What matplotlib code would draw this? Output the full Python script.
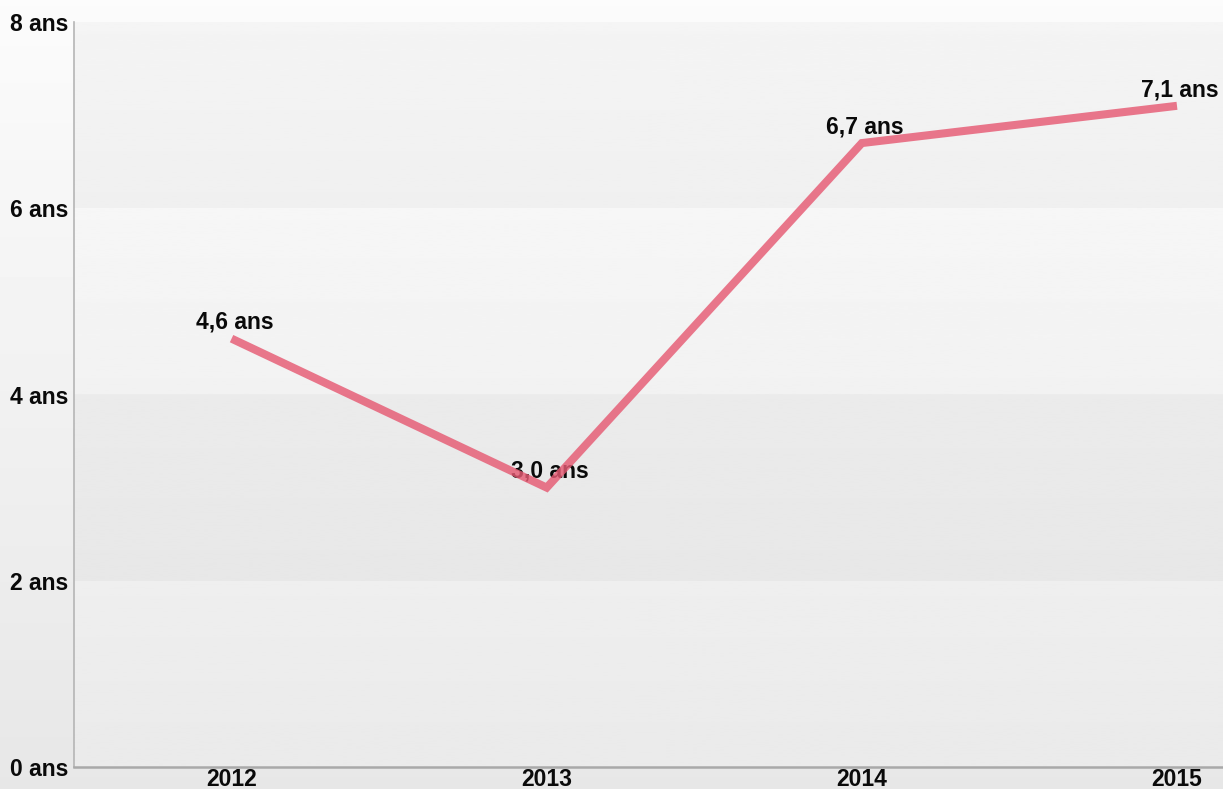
import numpy as np
import matplotlib
matplotlib.use("Agg")
import matplotlib.pyplot as plt

# Durée moyenne (en années) par année
years = ["2012", "2013", "2014", "2015"]
durations = [4.6, 3.0, 6.7, 7.1]
value_labels = ["4,6 ans", "3,0 ans", "6,7 ans", "7,1 ans"]
y_ticks = [0, 2, 4, 6, 8]
y_tick_labels = ["0 ans", "2 ans", "4 ans", "6 ans", "8 ans"]

FONT = "Liberation Sans"
LINE_COLOR = "#e65a73"
TEXT_COLOR = "#0a0a0a"

fig = plt.figure(figsize=(12.23, 7.89), dpi=100)

# soft vertical gradient behind everything
bg = fig.add_axes([0, 0, 1, 1], zorder=-10)
grad = np.linspace(0.985, 0.905, 256).reshape(-1, 1)
bg.imshow(grad, aspect="auto", cmap="gray", vmin=0, vmax=1,
          extent=[0, 1, 0, 1], origin="upper")
bg.set_axis_off()

ax = fig.add_axes([74 / 1223, 22 / 789, 1 - 74 / 1223, 745 / 789])
ax.set_xlim(-0.5, 3.146)
ax.set_ylim(0, 8)
x = np.arange(len(years))

# alternating horizontal bands (top shade, bottom shade), bottom band first
band_shades = [(0.935, 0.918), (0.922, 0.908), (0.966, 0.948), (0.958, 0.940)]
for i, (top, bottom) in enumerate(band_shades):
    g = np.linspace(top, bottom, 64).reshape(-1, 1)
    ax.imshow(g, aspect="auto", cmap="gray", vmin=0, vmax=1,
              extent=[-0.5, 3.146, y_ticks[i], y_ticks[i + 1]],
              origin="upper", zorder=0)

ax.plot(x, durations, color=LINE_COLOR, lw=5.8, alpha=0.82,
        solid_capstyle="butt", solid_joinstyle="miter", zorder=4)

for xi, v, lab in zip(x, durations, value_labels):
    ax.annotate(lab, (xi, v), xytext=(2, 7), textcoords="offset points",
                ha="center", va="baseline", fontsize=16.5, fontweight="bold",
                family=FONT, color=TEXT_COLOR, zorder=3)

ax.set_xticks(x)
ax.set_xticklabels(years, fontsize=16.5, fontweight="bold", family=FONT,
                   color=TEXT_COLOR)
ax.set_yticks(y_ticks)
ax.set_yticklabels(y_tick_labels, fontsize=16.5, fontweight="bold",
                   family=FONT, color=TEXT_COLOR)
ax.tick_params(axis="both", length=0)
ax.tick_params(axis="x", pad=1)
ax.tick_params(axis="y", pad=4)

for side in ("top", "right"):
    ax.spines[side].set_visible(False)
ax.spines["left"].set_color("#b5b5b5")
ax.spines["left"].set_linewidth(1.2)
ax.spines["bottom"].set_color("#a9a9a9")
ax.spines["bottom"].set_linewidth(1.8)

fig.savefig("out.png", dpi=100)
